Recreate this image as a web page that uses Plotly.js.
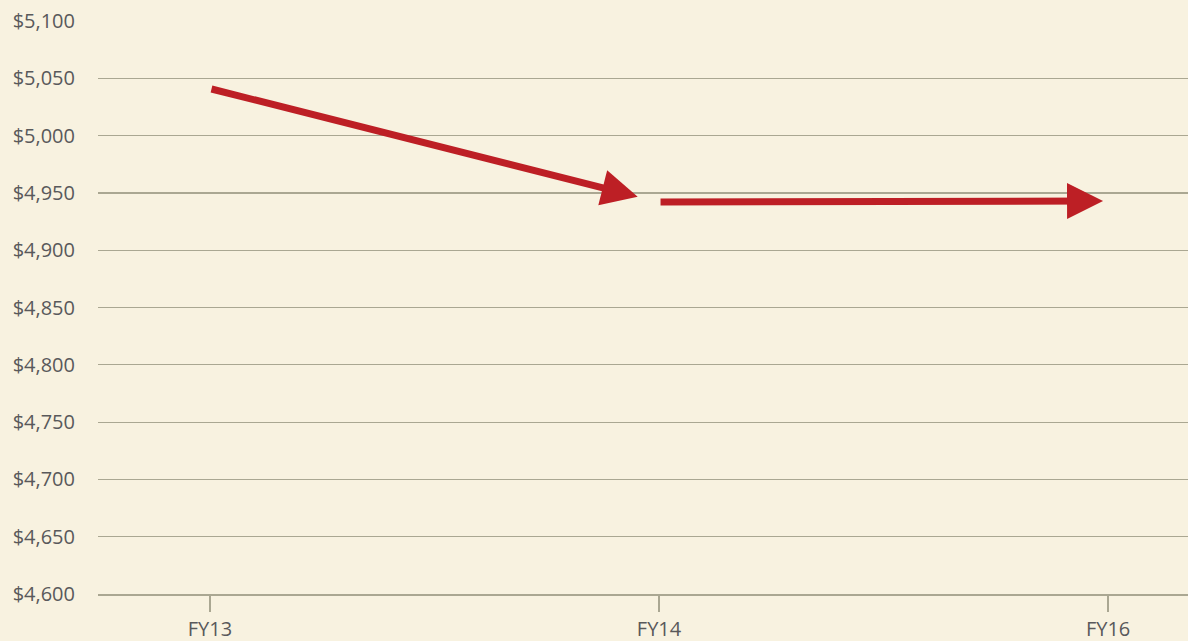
<!DOCTYPE html>
<html>
<head>
<meta charset="utf-8">
<script src="https://cdn.plot.ly/plotly-3.0.1.min.js"></script>
<style>
  html, body { margin: 0; padding: 0; background: #f8f2e0; }
  #chart { width: 1188px; height: 641px; }
</style>
</head>
<body>
<div id="chart"></div>
<script>
// Data
const categories = ['FY13', 'FY14', 'FY16'];
const values = [5041, 4942, 4943];
const yTicks = [4600, 4650, 4700, 4750, 4800, 4850, 4900, 4950, 5000, 5050, 5100];
const yTickLabels = ['$4,600', '$4,650', '$4,700', '$4,750', '$4,800', '$4,850', '$4,900', '$4,950', '$5,000', '$5,050', '$5,100'];

const bg = '#f8f2e0';
const red = '#bd1f25';
const grid = '#aaa792';
const textColor = '#59595b';
const fontFam = '"Open Sans", sans-serif';

const trace = {
  type: 'scatter',
  mode: 'markers',
  x: categories,
  y: values,
  marker: { opacity: 0 },
  hoverinfo: 'skip',
  showlegend: false
};

const standoffs = [22, 5];
const annotations = [];
for (let i = 0; i < categories.length - 1; i++) {
  annotations.push({
    x: i + 1,
    y: values[i + 1],
    ax: i,
    ay: values[i],
    xref: 'x', yref: 'y', axref: 'x', ayref: 'y',
    text: '',
    showarrow: true,
    arrowhead: 2,
    arrowsize: 1.03,
    arrowwidth: 7,
    arrowcolor: red,
    standoff: standoffs[i]
  });
}

const layout = {
  width: 1188,
  height: 641,
  paper_bgcolor: bg,
  plot_bgcolor: bg,
  margin: { l: 98, r: 0, t: 21, b: 47 },
  font: { family: fontFam, size: 20, color: textColor },
  showlegend: false,
  xaxis: {
    type: 'category',
    range: [-0.2494, 2.178],
    showgrid: false,
    showline: true,
    linecolor: grid,
    linewidth: 1.5,
    ticks: 'outside',
    ticklen: 16,
    tickwidth: 1.5,
    tickcolor: grid,
    tickfont: { family: fontFam, size: 20, color: textColor },
    zeroline: false,
    fixedrange: true
  },
  yaxis: {
    range: [4600, 5100],
    tickmode: 'array',
    tickvals: yTicks,
    ticktext: yTickLabels,
    tickfont: { family: fontFam, size: 20, color: textColor },
    showgrid: true,
    gridcolor: grid,
    gridwidth: 1.2,
    zeroline: false,
    showline: false,
    ticks: '',
    ticklabelstandoff: 22,
    fixedrange: true
  },
  annotations: annotations
};

Plotly.newPlot('chart', [trace], layout, { displayModeBar: false, staticPlot: true });
</script>
</body>
</html>
